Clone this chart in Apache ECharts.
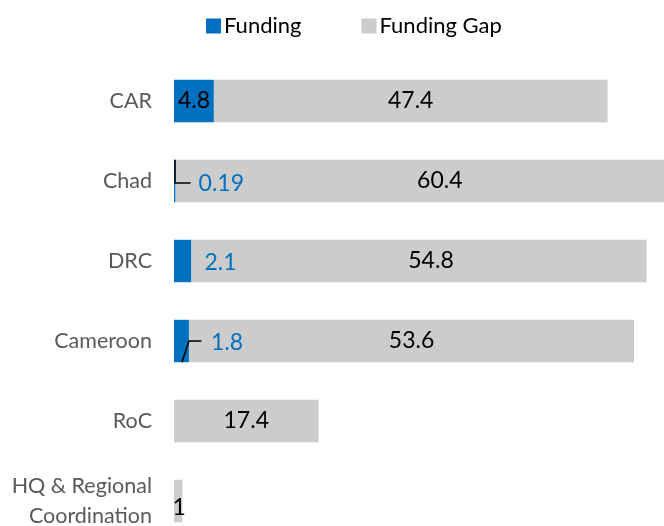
<!DOCTYPE html>
<html>
<head>
<meta charset="utf-8">
<script src="https://cdn.jsdelivr.net/npm/echarts@6/dist/echarts.min.js"></script>
<style>html,body{margin:0;padding:0;background:#fff}#c{width:664px;height:526px}</style>
</head>
<body>
<div id="c"></div>
<script>
const categories = ['CAR', 'Chad', 'DRC', 'Cameroon', 'RoC', 'HQ & Regional\nCoordination'];
const funding = [4.8, 0.19, 2.1, 1.8, 0, 0];
const fundingGap = [47.4, 60.4, 54.8, 53.6, 17.4, 1];

const FONT = 'Lato, "Open Sans", sans-serif';
const BLUE = '#0070C0';
const GRAY = '#CCCCCC';

// per-category label placement for the small funding values (style only)
const fundDist = [0, 23, 13, 22, 0, 0];
const gapOffset = [[0, 0], [20, 0], [12, 0], [0, 0], [0, 0], [1, 7]];
// categories whose funding label has a leader line (style only)
const leaderCats = [1, 3];

const chart = echarts.init(document.getElementById('c'));
chart.setOption({
  animation: false,
  textStyle: { fontFamily: FONT },
  legend: {
    top: 15, left: 206, padding: 0,
    itemWidth: 15, itemHeight: 15, itemGap: 60,
    icon: 'rect',
    textStyle: { fontSize: 22, color: '#000', fontFamily: FONT, padding: [0, 0, 0, -2] },
    data: ['Funding', 'Funding Gap']
  },
  grid: { left: 174, top: 61, width: 490, height: 480, outerBoundsMode: 'none', containLabel: false },
  xAxis: {
    type: 'value', min: 0, max: 59,
    show: false
  },
  yAxis: {
    type: 'category', inverse: true, data: categories,
    axisLine: { show: false }, axisTick: { show: false }, splitLine: { show: false },
    axisLabel: { color: '#595959', fontSize: 21.5, fontFamily: FONT, margin: 22, lineHeight: 30 }
  },
  series: [
    {
      name: 'Funding', type: 'bar', stack: 'a', barCategoryGap: '47%',
      itemStyle: { color: BLUE },
      data: funding.map((v, i) => {
        if (v === 0) return { value: v, label: { show: false } };
        if (i === 0) return { value: v, label: { show: true, position: 'inside', color: '#000', fontSize: 23 } };
        return { value: v, label: { show: true, position: 'right', distance: fundDist[i], color: BLUE, fontSize: 23, offset: [0, i === 1 ? 3 : 2] } };
      })
    },
    {
      name: 'Funding Gap', type: 'bar', stack: 'a', barCategoryGap: '47%',
      itemStyle: { color: GRAY },
      data: fundingGap.map((v, i) => ({ value: v, label: { offset: gapOffset[i] } })),
      label: { show: true, position: 'inside', color: '#000', fontSize: 23 }
    },
    {
      name: 'leader', type: 'custom', silent: true, z: 5,
      data: leaderCats.map(i => [funding[i], i]),
      encode: { x: 0, y: 1 },
      renderItem: function (params, api) {
        const end = api.coord([api.value(0), api.value(1)]);
        const half = api.size([0, 1])[1] * 0.53 / 2;
        let pts;
        if (api.value(1) === 1) {
          pts = [[end[0] - 0.5, end[1] - half], [end[0] - 0.5, end[1] + 2], [end[0] + 15, end[1] + 2]];
        } else {
          pts = [[end[0] - 7, end[1] + half], [end[0], end[1]], [end[0] + 12.5, end[1]]];
        }
        return {
          type: 'polyline',
          shape: { points: pts },
          style: { stroke: '#000', lineWidth: 1.5, fill: null }
        };
      }
    }
  ]
});
</script>
</body>
</html>
